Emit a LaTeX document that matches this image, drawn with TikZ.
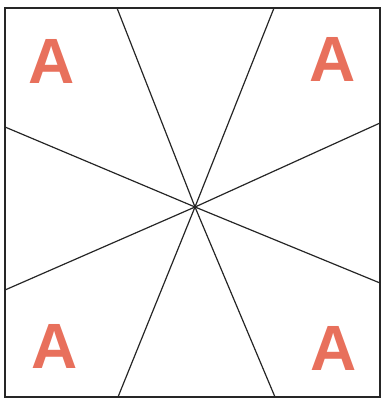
\documentclass[tikz,border=0pt]{standalone}
\usepackage{fontspec}
\setmainfont{Liberation Sans}
\definecolor{salmon}{HTML}{E8705C}
\begin{document}
\begin{tikzpicture}[x=1pt,y=-1pt,
  ray/.style={line width=1.2pt,black!85},
  letter/.style={text=salmon,font=\fontsize{64}{64}\selectfont\bfseries,inner sep=0pt}]
\useasboundingbox (0,0) rectangle (382,400);
\draw[line width=1.5pt,black!85] (5,8) rectangle (380,397);
\coordinate (c) at (195,207);
\coordinate (t1) at (117,8);
\coordinate (t2) at (274,8);
\coordinate (l1) at (5,127);
\coordinate (l2) at (5,290);
\coordinate (r1) at (380,123);
\coordinate (r2) at (380,283);
\coordinate (b1) at (118,397);
\coordinate (b2) at (275,397);
\foreach \p in {t1,t2,l1,l2,r1,r2,b1,b2} \draw[ray] (c) -- (\p);
\node[letter] (a1) at (52,61) {A};
\node[letter] (a2) at (333,59) {A};
\node[letter] (a3) at (55,346) {A};
\node[letter] (a4) at (334,348) {A};
\end{tikzpicture}
\end{document}
